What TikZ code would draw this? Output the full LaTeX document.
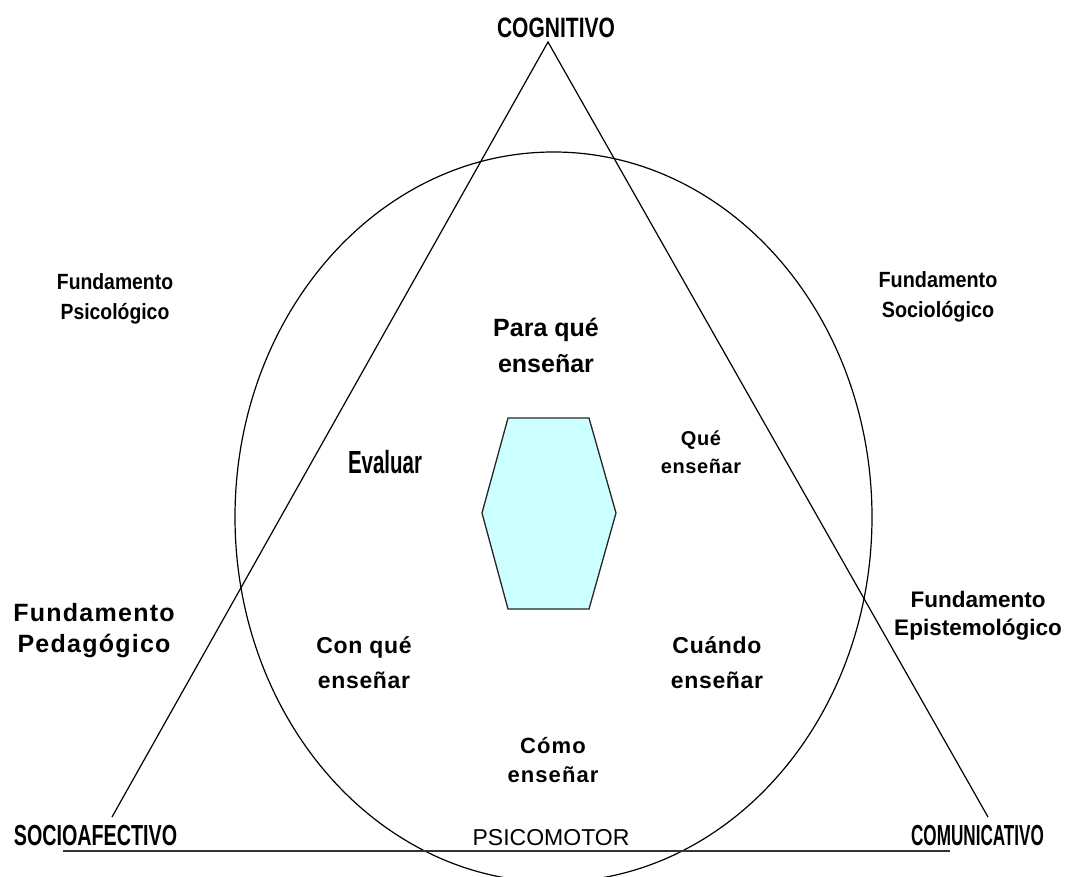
\documentclass[tikz,border=0pt]{standalone}
\usepackage{fontspec}
\setmainfont{Liberation Sans}
\usepackage{graphicx}
\newcommand{\sqz}[2]{\scalebox{#1}[1]{#2}}
\newcommand{\fsz}[2]{\fontsize{#1}{#2}\selectfont}
\definecolor{hexfill}{RGB}{204,255,255}
\tikzset{
  lbl/.style={inner sep=0pt, align=center, anchor=base, text=black},
  thinline/.style={draw=black, line width=1.2pt},
  baseline/.style={draw=black!80, line width=1.8pt},
  hexa/.style={draw=black!85, line width=1.3pt, fill=hexfill, line join=miter}
}
\begin{document}
\begin{tikzpicture}[x=1pt,y=-1pt]
\useasboundingbox (0,0) rectangle (1066,877);
\begin{scope}
\clip (0,0) rectangle (1066,877);
% ellipse
\draw[thinline] (553.5,517) ellipse [x radius=318.5, y radius=365];
% triangle sides
\coordinate (apex) at (548,42);
\coordinate (lfoot) at (112,817);
\coordinate (rfoot) at (988,817);
\draw[thinline] (lfoot) -- (apex) -- (rfoot);
% bottom line
\coordinate (bl) at (63,851);
\coordinate (br) at (950,851);
\draw[baseline] (bl) -- (br);
% hexagon
\coordinate (h1) at (508,418);
\coordinate (h2) at (589,418);
\coordinate (h3) at (616,513);
\coordinate (h4) at (589,609);
\coordinate (h5) at (508,609);
\coordinate (h6) at (482,513);
\draw[hexa] (h1) -- (h2) -- (h3) -- (h4) -- (h5) -- (h6) -- cycle;
\end{scope}
% corner labels
\node[lbl, font=\bfseries\fsz{28}{30}] (cog) at (556,38) {\sqz{0.75}{COGNITIVO}};
\node[lbl, font=\bfseries\fsz{29}{30}] (socio) at (95.5,845) {\sqz{0.68}{SOCIOAFECTIVO}};
\node[lbl, font=\bfseries\fsz{29}{30}] (comu) at (977.5,845) {\sqz{0.59}{COMUNICATIVO}};
\node[lbl, font=\fsz{23}{25}] (psico) at (551,845) {PSICOMOTOR};
% fundamentos (anchor = baseline of last line)
\node[lbl, font=\bfseries\fsz{22}{31}] (fpsi) at (115,320) {\sqz{0.88}{Fundamento}\\\sqz{0.88}{Psicológico}};
\node[lbl, font=\bfseries\fsz{22}{30}] (fsoc) at (938,318) {\sqz{0.9}{Fundamento}\\\sqz{0.9}{Sociológico}};
\node[lbl, font=\bfseries\fsz{25}{31}\addfontfeature{LetterSpace=5}] (fped) at (94,652) {Fundamento\\Pedagógico};
\node[lbl, font=\bfseries\fsz{22.5}{28}] (fepi) at (978,635) {Fundamento\\Epistemológico};
% inner labels
\node[lbl, font=\bfseries\fsz{25}{36}] (para) at (546,373) {Para qué\\enseñar};
\node[lbl, font=\bfseries\fsz{32}{34}] (eval) at (385,473) {\sqz{0.64}{Evaluar}};
\node[lbl, font=\bfseries\fsz{20}{28}\addfontfeature{LetterSpace=3}] (que) at (701,473) {Qué\\enseñar};
\node[lbl, font=\bfseries\fsz{23}{35}\addfontfeature{LetterSpace=3}] (conque) at (364,688) {Con qué\\enseñar};
\node[lbl, font=\bfseries\fsz{23}{35}\addfontfeature{LetterSpace=3}] (cuando) at (717,688) {Cuándo\\enseñar};
\node[lbl, font=\bfseries\fsz{22}{29}\addfontfeature{LetterSpace=5}] (como) at (553,782) {Cómo\\enseñar};
\end{tikzpicture}
\end{document}
